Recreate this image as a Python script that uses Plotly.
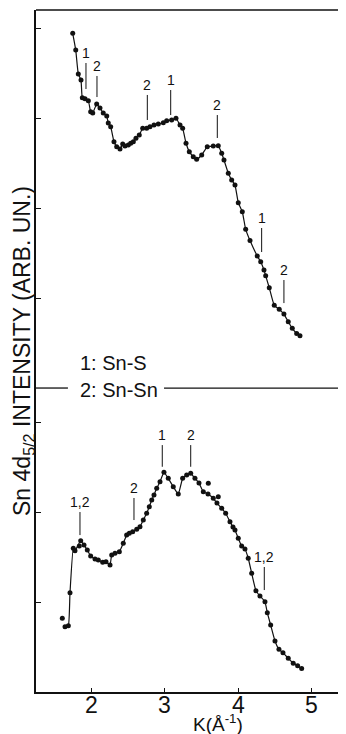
import plotly.graph_objects as go

# ---- upper curve (reference, Sn4d5/2 intensity, arb. units) ----
k_top = [1.741, 1.782, 1.817, 1.854, 1.872, 1.909, 1.954, 1.986, 2.014, 2.068,
         2.113, 2.158, 2.205, 2.226, 2.259, 2.304, 2.341, 2.386, 2.423, 2.454,
         2.499, 2.532, 2.568, 2.604, 2.649, 2.696, 2.750, 2.795, 2.850, 2.909,
         2.977, 3.023, 3.091, 3.150, 3.205, 3.241, 3.287, 3.332, 3.386, 3.432,
         3.501, 3.577, 3.659, 3.727, 3.774, 3.805, 3.864, 3.910, 3.955, 4.000,
         4.055, 4.101, 4.160, 4.259, 4.306, 4.351, 4.374, 4.423, 4.491, 4.559,
         4.623, 4.682, 4.737, 4.797, 4.842]
i_top = [3.941, 3.756, 3.489, 3.422, 3.226, 3.214, 3.192, 3.070, 3.056, 3.156,
         3.111, 3.056, 3.022, 2.944, 2.903, 2.737, 2.681, 2.656, 2.711, 2.689,
         2.700, 2.719, 2.737, 2.774, 2.811, 2.886, 2.886, 2.903, 2.922, 2.933,
         2.948, 2.970, 2.978, 2.997, 2.922, 2.886, 2.719, 2.626, 2.570, 2.541,
         2.589, 2.681, 2.689, 2.692, 2.608, 2.533, 2.386, 2.311, 2.256, 2.059,
         1.959, 1.763, 1.639, 1.467, 1.403, 1.311, 1.248, 1.114, 0.919, 0.874,
         0.822, 0.737, 0.663, 0.607, 0.581]

# ---- lower curve ----
k_bot = [1.636, 1.681, 1.704, 1.749, 1.772, 1.850, 1.895, 1.940, 1.986, 2.045,
         2.090, 2.150, 2.195, 2.250, 2.273, 2.318, 2.377, 2.431, 2.477, 2.513,
         2.559, 2.614, 2.659, 2.704, 2.750, 2.786, 2.819, 2.850, 2.887, 2.932,
         2.986, 3.045, 3.113, 3.181, 3.241, 3.296, 3.351, 3.409, 3.464, 3.523,
         3.587, 3.659, 3.709, 3.774, 3.828, 3.887, 3.928, 3.955, 4.000, 4.046,
         4.091, 4.136, 4.183, 4.241, 4.296, 4.364, 4.396, 4.442, 4.501, 4.555,
         4.610, 4.682, 4.750, 4.810, 4.865]
i_bot = [0.726, 0.737, 1.103, 1.597, 1.570, 1.681, 1.633, 1.578, 1.511, 1.478,
         1.467, 1.441, 1.448, 1.411, 1.522, 1.541, 1.559, 1.652, 1.744, 1.763,
         1.781, 1.808, 1.837, 1.911, 1.986, 2.059, 2.133, 2.189, 2.263, 2.337,
         2.441, 2.374, 2.281, 2.200, 2.374, 2.411, 2.430, 2.374, 2.322, 2.226,
         2.200, 2.152, 2.100, 2.041, 1.986, 1.892, 1.833, 1.800, 1.708, 1.622,
         1.589, 1.486, 1.319, 1.126, 1.067, 1.003, 0.881, 0.744, 0.567, 0.474,
         0.437, 0.374, 0.319, 0.292, 0.261]
k_bot_extra = [1.599, 1.831, 3.591, 3.727]
i_bot_extra = [0.819, 1.622, 2.319, 2.170]

# ---- peak markers (1: Sn-S, 2: Sn-Sn) ----
top_mark_k = [1.922, 2.072, 2.759, 3.078, 3.714, 4.319, 4.623]
top_mark_lbl = ["1", "2", "2", "1", "2", "1", "2"]
top_mark_lo = [3.322, 3.233, 2.978, 3.033, 2.778, 1.511, 0.944]
top_mark_hi = [3.611, 3.467, 3.256, 3.311, 3.033, 1.778, 1.200]
bot_mark_k = [1.840, 2.577, 2.963, 3.351, 4.355]
bot_mark_lbl = ["1,2", "2", "1", "2", "1,2"]
bot_mark_lo = [1.744, 1.911, 2.503, 2.503, 1.133]
bot_mark_hi = [2.000, 2.156, 2.744, 2.744, 1.389]

x_ticks = [2, 3, 4, 5]
x_tick_text = ["2", "3", "4", "5"]

FONT = "Liberation Sans, Arial, sans-serif"
INK = "#111111"

fig = go.Figure()

fig.add_trace(go.Scatter(x=k_top, y=i_top, mode="lines+markers", yaxis="y2",
                         line=dict(color=INK, width=1.2, shape="spline", smoothing=0.4),
                         marker=dict(color=INK, size=5), showlegend=False))
fig.add_trace(go.Scatter(x=k_bot, y=i_bot, mode="lines+markers", yaxis="y",
                         line=dict(color=INK, width=1.2, shape="spline", smoothing=0.4),
                         marker=dict(color=INK, size=5), showlegend=False))
fig.add_trace(go.Scatter(x=k_bot_extra, y=i_bot_extra, mode="markers", yaxis="y",
                         marker=dict(color=INK, size=5), showlegend=False))


def tick_lines(ks, lo, hi):
    xs, ys = [], []
    for k, a, b in zip(ks, lo, hi):
        xs += [k, k, None]
        ys += [a, b, None]
    return xs, ys


tx, ty = tick_lines(top_mark_k, top_mark_lo, top_mark_hi)
fig.add_trace(go.Scatter(x=tx, y=ty, mode="lines", yaxis="y2",
                         line=dict(color=INK, width=1), showlegend=False))
bx, by = tick_lines(bot_mark_k, bot_mark_lo, bot_mark_hi)
fig.add_trace(go.Scatter(x=bx, y=by, mode="lines", yaxis="y",
                         line=dict(color=INK, width=1), showlegend=False))

annotations = []
for k, h, t in zip(top_mark_k, top_mark_hi, top_mark_lbl):
    annotations.append(dict(x=k, y=h, xref="x", yref="y2", text=t, showarrow=False,
                            yanchor="bottom", yshift=0, font=dict(size=14, color=INK, family=FONT)))
for k, h, t in zip(bot_mark_k, bot_mark_hi, bot_mark_lbl):
    annotations.append(dict(x=k, y=h, xref="x", yref="y", text=t, showarrow=False,
                            yanchor="bottom", yshift=0, font=dict(size=14, color=INK, family=FONT)))

# x tick labels, set close under the axis as in the original
for v, t in zip(x_ticks, x_tick_text):
    annotations.append(dict(x=v, y=-0.019, xref="x", yref="paper", text=t, showarrow=False,
                            xanchor="center", yanchor="middle",
                            font=dict(size=23, color=INK, family=FONT)))

annotations += [
    dict(x=0.1355, y=0.4824, xref="paper", yref="paper", text="1: Sn-S", showarrow=False,
         xanchor="left", yanchor="middle", font=dict(size=20, color=INK, family=FONT)),
    dict(x=0.1355, y=0.4428, xref="paper", yref="paper", text="2: Sn-Sn", showarrow=False,
         xanchor="left", yanchor="middle", font=dict(size=20, color=INK, family=FONT)),
    dict(x=-0.042, y=0.5, xref="paper", yref="paper",
         text="Sn 4d<sub>5/2</sub> INTENSITY (ARB. UN.)", showarrow=False, textangle=-90,
         xanchor="center", yanchor="middle", font=dict(size=23, color=INK, family=FONT)),
    dict(x=0.587, y=-0.045, xref="paper", yref="paper", text="K(Å<sup>-1</sup>)",
         showarrow=False, xanchor="center", yanchor="middle",
         font=dict(size=19, color=INK, family=FONT)),
]

split = 0.4457
shapes = [
    dict(type="line", xref="paper", yref="paper", x0=0, x1=1, y0=1, y1=1,
         line=dict(color=INK, width=1.5)),
    dict(type="line", xref="paper", yref="paper", x0=0, x1=0.103, y0=split, y1=split,
         line=dict(color=INK, width=1.3)),
    dict(type="line", xref="paper", yref="paper", x0=0.413, x1=1, y0=split, y1=split,
         line=dict(color=INK, width=1.3)),
]

# the page body adds an 8 px margin; size and margins compensate for it
fig.update_layout(
    width=338, height=726,
    margin=dict(l=28, r=0, t=2, b=42, autoexpand=False),
    paper_bgcolor="white", plot_bgcolor="white",
    font=dict(family=FONT, color=INK),
    showlegend=False,
    xaxis=dict(range=[1.24, 5.47], tickvals=x_ticks, ticks="inside", ticklen=4,
               tickcolor=INK, showline=True, linecolor=INK, linewidth=1.5,
               showticklabels=False, showgrid=False, zeroline=False, anchor="y"),
    yaxis=dict(domain=[0, split], range=[0, 3.378], tickvals=[1, 2, 3],
               ticks="inside", ticklen=5, tickcolor=INK, showticklabels=False,
               showline=True, linecolor=INK, linewidth=1.5, showgrid=False,
               zeroline=False, anchor="x"),
    yaxis2=dict(domain=[split, 1], range=[0, 4.2], tickvals=[1, 2, 3, 4],
                ticks="inside", ticklen=5, tickcolor=INK, showticklabels=False,
                showline=True, linecolor=INK, linewidth=1.5, showgrid=False,
                zeroline=False, anchor="x"),
    annotations=annotations,
    shapes=shapes,
)

fig.write_html("out.html")
